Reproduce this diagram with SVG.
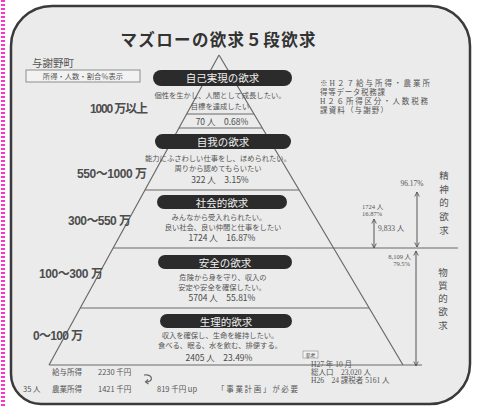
<svg xmlns="http://www.w3.org/2000/svg" width="478" height="407" viewBox="0 0 478 407">
<defs>
<style>
.t{font-family:"Noto Sans CJK JP","Liberation Sans",sans-serif;fill:#555}
.pill{fill:#2b2b2b}
.pt{font-family:"Noto Sans CJK JP",sans-serif;fill:#f0f0f0;font-size:10.5px;text-anchor:middle}
.s{font-size:7.3px;text-anchor:middle}
.n{font-size:8.5px;text-anchor:middle;fill:#4a4a4a}
.lab{font-family:"Liberation Sans","Noto Sans CJK JP",sans-serif;font-weight:bold;font-size:12px;fill:#4d4d4d}
.ln{stroke:#6a6a6a;stroke-width:1.2;fill:none}
.ar{stroke:#555;stroke-width:1;fill:none;marker-start:url(#a);marker-end:url(#a)}
.sf{font-family:"Liberation Serif","Noto Sans CJK JP",serif;fill:#555;font-size:7.5px}
.sm{font-size:6.5px}
.v{font-family:"Noto Sans CJK JP",sans-serif;fill:#555;font-size:9.5px;text-anchor:middle}
</style>
<marker id="a" viewBox="0 0 8 8" refX="7" refY="4" markerWidth="6" markerHeight="6" orient="auto-start-reverse"><path d="M1,1 L7,4 L1,7" fill="none" stroke="#555" stroke-width="1.2"/></marker>
</defs>
<rect width="478" height="407" fill="#fff"/>
<line x1="3" y1="0" x2="3" y2="407" stroke="#ff33cc" stroke-width="4" stroke-dasharray="2 2"/>
<path d="M52,6 H430 A40,40 0 0 1 470,46 V364 A40,40 0 0 1 430,404 H41 A30,30 0 0 1 11,374 V46 A41,40 0 0 1 52,6 Z" fill="#ebebeb" stroke="#3a3a3a" stroke-width="2.5"/>

<text x="218" y="46" font-family="Noto Sans CJK JP,sans-serif" font-weight="bold" font-size="16.5" fill="#333" text-anchor="middle" textLength="195">マズローの欲求５段欲求</text>
<text x="32" y="67" font-family="Noto Sans CJK JP,sans-serif" font-size="10.5" fill="#555">与謝野町</text>
<g id="legend">
<rect x="26" y="70" width="114" height="12" fill="#f2f2f2" stroke="#777" stroke-width="0.8"/>
<text class="t" x="83" y="79" font-size="7.3" text-anchor="middle">所得・人数・割合％表示</text>
</g>

<g id="connectors">
<path class="ln" d="M219,55 L49,365 M219,55 L403,365 M49,365 L422,365"/>
<path class="ln" d="M186.6,114 L254,114 M179,128 L262,128 M145,190 L299,190 M113,248 L458,248 M80,308 L369,308"/>
<line class="ar" x1="417" y1="192" x2="417" y2="247"/>
<line class="ar" x1="374" y1="219" x2="374" y2="248"/>
<line class="ar" x1="416" y1="251" x2="416" y2="366"/>
<path d="M144,375 C153,374 154,382 146,382" fill="none" stroke="#666" stroke-width="1.2"/>
<path d="M148,379.5 L145.5,382 L148.5,384" fill="none" stroke="#666" stroke-width="1.1"/>
</g>

<g id="self-actualization">
<rect class="pill" x="153" y="70" width="139" height="16" rx="8"/>
<text class="pt" x="222.5" y="82">自己実現の欲求</text>
<text class="t s" x="220" y="98">個性を生かし、人間として成長したい。</text>
<text class="t s" x="220" y="109">目標を達成したい</text>
<text class="t n" x="222" y="125">70 人　0.68%</text>
</g>
<g id="esteem">
<rect class="pill" x="155" y="134" width="136" height="15" rx="7.5"/>
<text class="pt" x="223" y="145.5">自我の欲求</text>
<text class="t s" x="218" y="160.5">能力にふさわしい仕事をし、ほめられたい。</text>
<text class="t s" x="218" y="170.5">周りから認めてもらいたい</text>
<text class="t n" x="220" y="183">322 人　3.15%</text>
</g>
<g id="social">
<rect class="pill" x="157" y="195" width="130" height="14" rx="7"/>
<text class="pt" x="222" y="206.5">社会的欲求</text>
<text class="t s" x="219" y="219.5">みんなから受入れられたい。</text>
<text class="t s" x="223" y="229.5">良い社会、良い仲間と仕事をしたい</text>
<text class="t n" x="222" y="240.5">1724 人　16.87%</text>
</g>
<g id="safety">
<rect class="pill" x="158" y="255" width="134" height="14" rx="7"/>
<text class="pt" x="225" y="266.5">安全の欲求</text>
<text class="t s" x="223" y="279.5">危険から身を守り、収入の</text>
<text class="t s" x="222" y="289.5">安定や安全を確保したい。</text>
<text class="t n" x="222" y="301">5704 人　55.81%</text>
</g>
<g id="physiological">
<rect class="pill" x="160" y="314" width="132" height="14" rx="7"/>
<text class="pt" x="226" y="325.5">生理的欲求</text>
<text class="t s" x="220" y="337.5">収入を確保し、生命を維持したい。</text>
<text class="t s" x="220" y="347.5">食べる、眠る、水を飲む、排便する。</text>
<text class="t n" x="219" y="361">2405 人　23.49%</text>
</g>

<g id="income-labels">
<text class="lab" x="90" y="113" textLength="58">1000 万以上</text>
<text class="lab" x="77" y="177.5" textLength="70">550〜1000 万</text>
<text class="lab" x="68" y="224.5" textLength="63">300〜550 万</text>
<text class="lab" x="39" y="277.5" textLength="64">100〜300 万</text>
<text class="lab" x="33" y="339.5" textLength="50">0〜100 万</text>
</g>

<g id="note">
<text class="sf" x="320" y="86" textLength="110">※H２７給与所得・農業所</text>
<text class="sf" x="320" y="95" textLength="65">得等データ税務課</text>
<text class="sf" x="320" y="104" textLength="108">H２６所得区分・人数税務</text>
<text class="sf" x="320" y="112.5" textLength="68">課資料（与謝野）</text>
</g>

<g id="spiritual">
<text class="v" x="444" y="179">精</text>
<text class="v" x="444" y="193">神</text>
<text class="v" x="444" y="206">的</text>
<text class="v" x="444" y="220">欲</text>
<text class="v" x="444" y="234">求</text>
<text class="sf" x="412" y="186" text-anchor="middle">96.17%</text>
<text class="sf sm" x="362" y="209">1724 人</text>
<text class="sf sm" x="362" y="216">16.87%</text>
<text class="sf" x="378" y="231">9,833 人</text>
</g>
<g id="material">
<text class="v" x="443" y="276">物</text>
<text class="v" x="443" y="289">質</text>
<text class="v" x="443" y="302">的</text>
<text class="v" x="443" y="315">欲</text>
<text class="v" x="443" y="329">求</text>
<text class="sf sm" x="411" y="258.5" text-anchor="end">8,109 人</text>
<text class="sf sm" x="410" y="265.5" text-anchor="end">79.5%</text>
</g>

<g id="population">
<rect x="303" y="351" width="15" height="7" fill="#f2f2f2" stroke="#888" stroke-width="0.6"/>
<text class="sf" x="310.5" y="356.8" text-anchor="middle" style="font-size:5px">参考</text>
<text class="sf" x="311" y="366.5">H27 年 10 月</text>
<text class="sf" x="311" y="374.5">総人口　23,020 人</text>
<text class="sf" x="311" y="382.5">H26　24 課税者 5161 人</text>
</g>

<g id="bottom-notes">
<text class="t" x="52" y="375" font-size="7.5">給与所得</text>
<text class="t" x="98" y="375" font-size="7.5">2230 千円</text>
<text class="t" x="23" y="392" font-size="7.5">35 人</text>
<text class="t" x="52" y="392" font-size="7.5">農業所得</text>
<text class="t" x="98" y="392" font-size="7.5">1421 千円</text>
<text class="t" x="157" y="392" font-size="7.5">819 千円 up</text>
<text class="t" x="217" y="392" font-size="7.5" textLength="81">「事業計画」が必要</text>
</g>
</svg>
